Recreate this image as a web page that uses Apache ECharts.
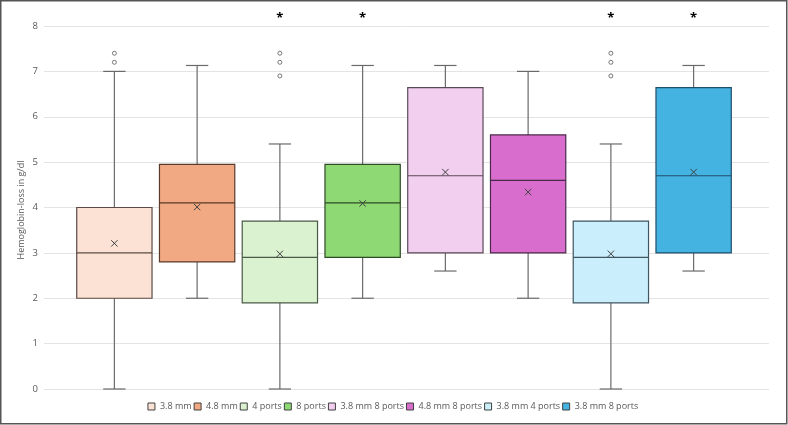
<!DOCTYPE html>
<html>
<head>
<meta charset="utf-8">
<script src="https://cdn.jsdelivr.net/npm/echarts@6/dist/echarts.min.js"></script>
<style>
html,body{margin:0;padding:0;background:#fff;}
#chart{width:788px;height:425px;}
</style>
</head>
<body>
<div id="chart"></div>
<script>
// ---- data ----
const groups = ['3.8 mm', '4.8 mm', '4 ports', '8 ports', '3.8 mm 8 ports', '4.8 mm 8 ports', '3.8 mm 4 ports', '3.8 mm 8 ports '];
const legendNames = ['3.8 mm', '4.8 mm', '4 ports', '8 ports', '3.8 mm 8 ports', '4.8 mm 8 ports', '3.8 mm 4 ports', '3.8 mm 8 ports '];
const whiskerMin = [0.0, 2.0, 0.0, 2.0, 2.6, 2.0, 0.0, 2.6];
const q1 =        [2.0, 2.8, 1.9, 2.9, 3.0, 3.0, 1.9, 3.0];
const median =    [3.0, 4.1, 2.9, 4.1, 4.7, 4.6, 2.9, 4.7];
const q3 =        [4.0, 4.95, 3.7, 4.95, 6.64, 5.6, 3.7, 6.64];
const whiskerMax = [7.0, 7.13, 5.4, 7.13, 7.13, 7.0, 5.4, 7.13];
const mean =      [3.21, 4.01, 2.98, 4.09, 4.78, 4.34, 2.98, 4.78];
const outliers = [[7.4, 7.2], [], [7.4, 7.2, 6.9], [], [], [], [7.4, 7.2, 6.9], []];
const significance = ['', '', '*', '*', '', '', '*', '*'];
const yTicks = [0, 1, 2, 3, 4, 5, 6, 7, 8];
const yTitle = 'Hemoglobin-loss in g/dl';

// ---- styles ----
const fills = ['#FBE2D5', '#F1A983', '#DAF2D0', '#8ED973', '#F2CEEF', '#D86DCD', '#CAEEFB', '#44B3E1'];
const borders = ['#5b4a42', '#5a3a28', '#4a5a46', '#2f4a25', '#5a4a58', '#4a2a48', '#3f5560', '#1f4e6a'];

function renderBox(params, api) {
  const xi = api.value(0);
  const band = api.size([1, 0])[0];
  const half = band * 0.455;
  const cap = band * 0.135;
  const cx = api.coord([xi, 0])[0];
  const Y = v => api.coord([xi, v])[1];
  const yMin = Y(api.value(1)), yQ1 = Y(api.value(2)), yMed = Y(api.value(3)),
        yQ3 = Y(api.value(4)), yMax = Y(api.value(5)), yMean = Y(api.value(6));
  const si = params.seriesIndex;
  const bc = borders[si];
  const wl = { stroke: '#6a6a6a', lineWidth: 1.2 };
  const m = 3.2;
  return {
    type: 'group',
    children: [
      { type: 'line', shape: { x1: cx, y1: yQ3, x2: cx, y2: yMax }, style: wl },
      { type: 'line', shape: { x1: cx, y1: yQ1, x2: cx, y2: yMin }, style: wl },
      { type: 'line', shape: { x1: cx - cap, y1: yMax, x2: cx + cap, y2: yMax }, style: wl },
      { type: 'line', shape: { x1: cx - cap, y1: yMin, x2: cx + cap, y2: yMin }, style: wl },
      { type: 'rect', shape: { x: cx - half, y: yQ3, width: half * 2, height: yQ1 - yQ3 },
        style: { fill: fills[si], stroke: bc, lineWidth: 1.2 } },
      { type: 'line', shape: { x1: cx - half, y1: yMed, x2: cx + half, y2: yMed }, style: { stroke: bc, lineWidth: 1.2 } },
      { type: 'line', shape: { x1: cx - m, y1: yMean - m, x2: cx + m, y2: yMean + m }, style: { stroke: '#404040', lineWidth: 1 } },
      { type: 'line', shape: { x1: cx - m, y1: yMean + m, x2: cx + m, y2: yMean - m }, style: { stroke: '#404040', lineWidth: 1 } }
    ]
  };
}

const series = groups.map((g, i) => ({
  name: legendNames[i],
  type: 'custom',
  xAxisIndex: 1,
  yAxisIndex: 1,
  itemStyle: { color: fills[i] },
  renderItem: renderBox,
  encode: { x: 0, y: [1, 2, 3, 4, 5] },
  data: [[i, whiskerMin[i], q1[i], median[i], q3[i], whiskerMax[i], mean[i]]],
  z: 2
}));

const outlierData = [];
outliers.forEach((arr, i) => arr.forEach(v => outlierData.push([i, v])));
series.push({
  name: 'outliers',
  type: 'scatter',
  xAxisIndex: 1,
  yAxisIndex: 1,
  symbol: 'circle',
  symbolSize: 4,
  itemStyle: { color: '#fff', borderColor: '#595959', borderWidth: 1 },
  data: outlierData,
  z: 3
});

const chart = echarts.init(document.getElementById('chart'), null, { renderer: 'canvas' });
chart.setOption({
  animation: false,
  backgroundColor: '#fff',
  textStyle: { fontFamily: 'Open Sans' },
  grid: [
    { left: 44, right: 19, top: 26, bottom: 36 },
    { left: 73, right: 53, top: 26, bottom: 36 }
  ],
  xAxis: [
    { type: 'category', gridIndex: 0, data: [''], show: false },
    {
      type: 'category', gridIndex: 1, data: groups, position: 'top',
      axisLine: { show: false }, axisTick: { show: false },
      axisLabel: {
        interval: 0, margin: 1, fontSize: 13, fontWeight: 'bold', color: '#000',
        formatter: (v, idx) => significance[idx]
      }
    }
  ],
  yAxis: [
    {
      type: 'value', gridIndex: 0, min: yTicks[0], max: yTicks[yTicks.length - 1], interval: 1,
      axisLine: { show: false }, axisTick: { show: false },
      axisLabel: { fontSize: 9.5, color: '#595959', margin: 6 },
      splitLine: { lineStyle: { color: '#e4e4e4', width: 1 } }
    },
    { type: 'value', gridIndex: 1, min: 0, max: 8, interval: 1, show: false, splitLine: { show: false } }
  ],
  legend: {
    data: legendNames,
    left: 'center', bottom: 9, width: 700,
    icon: 'rect', itemWidth: 7, itemHeight: 7, itemGap: 2,
    itemStyle: { borderColor: '#404040', borderWidth: 1 },
    textStyle: { fontSize: 9, color: '#595959' }
  },
  graphic: [
    {
      type: 'text', silent: true, x: 21, y: 210, rotation: Math.PI / 2,
      style: { text: yTitle, fontSize: 9, fontFamily: 'Open Sans', fill: '#595959', align: 'center', verticalAlign: 'middle' }
    },
    {
      type: 'rect', silent: true, z: 100,
      shape: { x: 0.75, y: 0.75, width: 786, height: 423 },
      style: { fill: 'none', stroke: '#555', lineWidth: 1.5 }
    }
  ],
  series: series
});
</script>
</body>
</html>
